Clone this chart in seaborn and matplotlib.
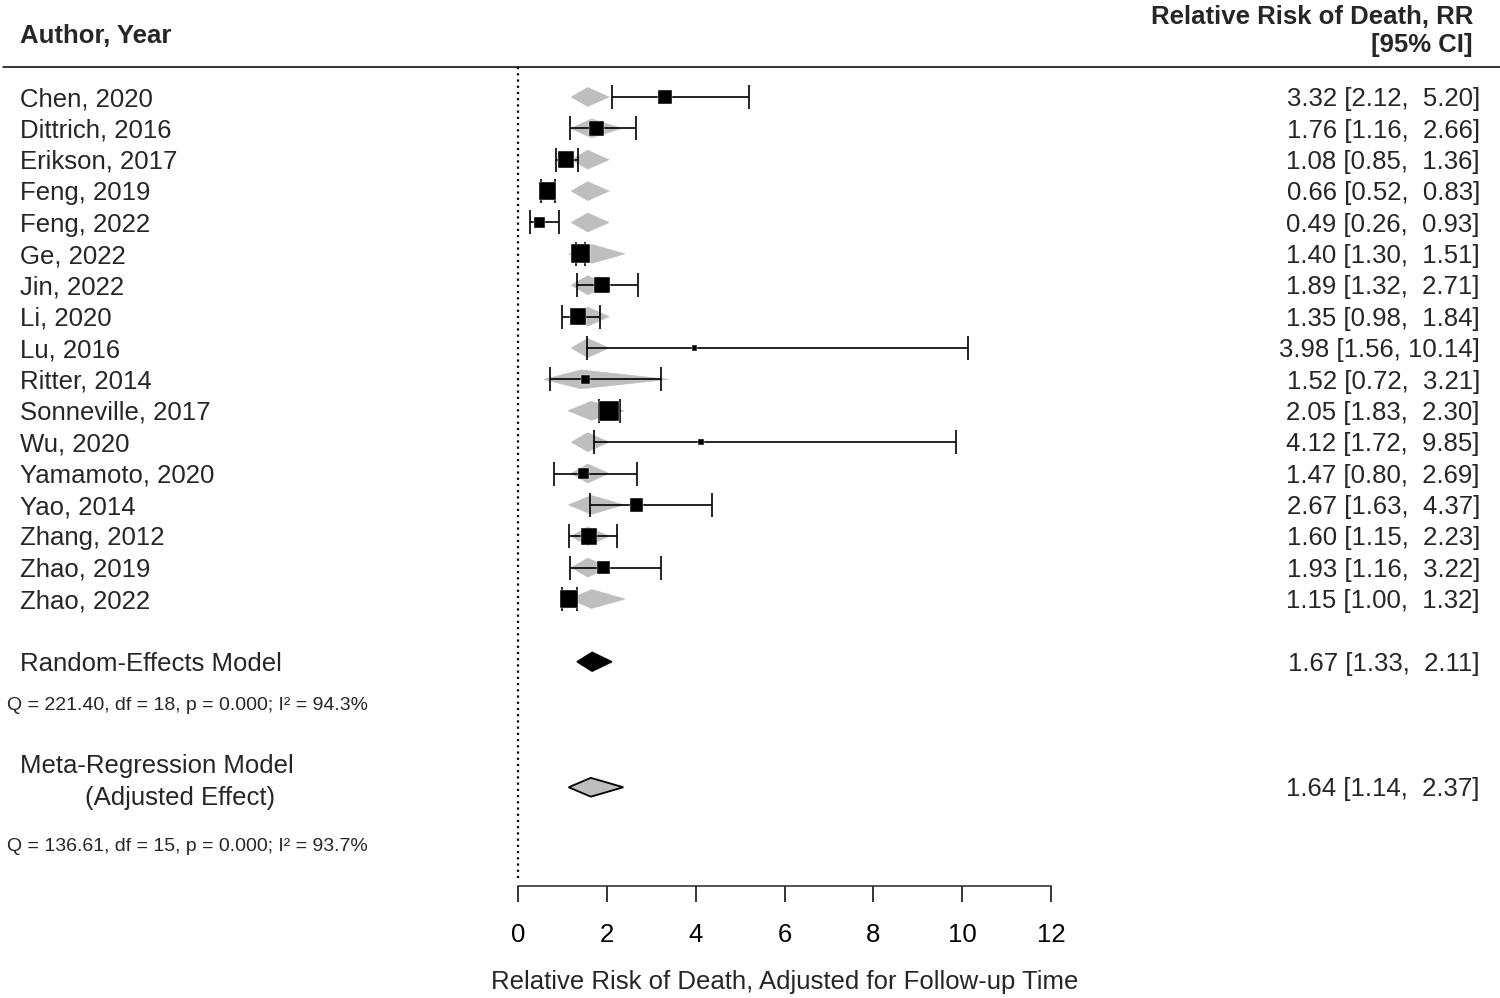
import matplotlib
matplotlib.use("Agg")
import numpy as np
import pandas as pd
import matplotlib.pyplot as plt
import matplotlib.transforms as mtransforms
from matplotlib.lines import Line2D
import seaborn as sns

# Study-level data (relative risk of death with 95% CI)
studies = ["Chen, 2020", "Dittrich, 2016", "Erikson, 2017", "Feng, 2019", "Feng, 2022",
           "Ge, 2022", "Jin, 2022", "Li, 2020", "Lu, 2016", "Ritter, 2014",
           "Sonneville, 2017", "Wu, 2020", "Yamamoto, 2020", "Yao, 2014", "Zhang, 2012",
           "Zhao, 2019", "Zhao, 2022"]
rr = [3.32, 1.76, 1.08, 0.66, 0.49, 1.40, 1.89, 1.35, 3.98, 1.52,
      2.05, 4.12, 1.47, 2.67, 1.60, 1.93, 1.15]
ci_low = [2.12, 1.16, 0.85, 0.52, 0.26, 1.30, 1.32, 0.98, 1.56, 0.72,
          1.83, 1.72, 0.80, 1.63, 1.15, 1.16, 1.00]
ci_high = [5.20, 2.66, 1.36, 0.83, 0.93, 1.51, 2.71, 1.84, 10.14, 3.21,
           2.30, 9.85, 2.69, 4.37, 2.23, 3.22, 1.32]
# random-effects weights (%)
weights = [5.6, 6.1, 6.7, 7.0, 4.3, 7.6, 6.3, 6.6, 2.1, 3.9,
           7.9, 2.5, 4.5, 5.4, 6.6, 5.1, 7.5]

# fitted values from the meta-regression (gray diamonds)
fit_rr = [1.57, 1.66, 1.57, 1.57, 1.57, 1.66, 1.57, 1.57, 1.57, 1.42,
          1.65, 1.57, 1.57, 1.65, 1.57, 1.57, 1.66]
fit_low = [1.20, 1.19, 1.20, 1.20, 1.20, 1.15, 1.20, 1.20, 1.20, 0.59,
           1.13, 1.20, 1.20, 1.14, 1.20, 1.20, 1.15]
fit_high = [2.05, 2.33, 2.05, 2.05, 2.05, 2.41, 2.05, 2.05, 2.05, 3.38,
            2.39, 2.05, 2.05, 2.38, 2.05, 2.05, 2.41]

# pooled estimates
re_est, re_low, re_high = 1.67, 1.33, 2.11
mr_est, mr_low, mr_high = 1.64, 1.14, 2.37
re_stats = "Q = 221.40, df = 18, p = 0.000; I\u00b2 = 94.3%"
mr_stats = "Q = 136.61, df = 15, p = 0.000; I\u00b2 = 93.7%"

x_ticks = [0, 2, 4, 6, 8, 10, 12]

FS = 18.5
GRAY = "#bebebe"


def ci_text(est, lo, hi):
    return f"{est:.2f} [{lo:.2f}, {hi:5.2f}]"


def diamond(ax, est, lo, hi, y, h=0.30, **kw):
    ax.fill([lo, est, hi, est], [y, y - h, y, y + h], **kw)


def forest_plot():
    sns.set_style("white")
    plt.rcParams["font.family"] = ["Liberation Sans", "DejaVu Sans"]

    df = pd.DataFrame({
        "study": studies, "rr": rr, "low": ci_low, "high": ci_high,
        "weight": weights, "fit": fit_rr, "fit_low": fit_low, "fit_high": fit_high,
    })
    df["row"] = np.arange(1, len(df) + 1)
    re_row = len(df) + 2
    mr_row = len(df) + 6

    fig = plt.figure(figsize=(15, 9.98), dpi=100)
    ax = fig.add_axes([518 / 1500, 112 / 998, 533 / 1500, 819 / 998])
    ax.set_xlim(0, 12)
    ax.set_ylim(26.147, 0.044)

    # fitted values of the meta-regression
    for _, r in df.iterrows():
        diamond(ax, r["fit"], r["fit_low"], r["fit_high"], r["row"],
                facecolor=GRAY, edgecolor=GRAY, linewidth=0.5, zorder=2)

    # study confidence intervals
    ax.errorbar(df["rr"], df["row"], xerr=[df["rr"] - df["low"], df["high"] - df["rr"]],
                fmt="none", ecolor="black", elinewidth=1.2, capsize=8.6, capthick=1.2, zorder=3)

    # squares sized by weight (side proportional to weight)
    side_pt = df["weight"] * 2.5 * 0.72
    sns.scatterplot(data=df, x="rr", y="row", marker="s", s=side_pt ** 2, color="black",
                    edgecolor="white", linewidth=0.3, legend=False, ax=ax, zorder=4)

    # summary diamonds
    diamond(ax, re_est, re_low, re_high, re_row, facecolor="black", edgecolor="black",
            linewidth=1.1, zorder=3)
    diamond(ax, mr_est, mr_low, mr_high, mr_row, facecolor=GRAY, edgecolor="black",
            linewidth=1.3, zorder=3)

    # reference line at 0
    ax.vlines(0, 0.044, 25.9, colors="black", linestyles=(0, (1, 1.8)), linewidth=1.6,
              clip_on=False)

    # axis styling
    sns.despine(ax=ax, left=True)
    ax.set_yticks([])
    ax.set_xticks(x_ticks)
    ax.spines["bottom"].set_linewidth(1.1)
    ax.tick_params(axis="x", bottom=True, direction="out", length=11.5, width=1.1, pad=15.5,
                   labelsize=FS, colors="black")
    ax.set_xlabel("Relative Risk of Death, Adjusted for Follow-up Time", fontsize=FS,
                  labelpad=16)
    ax.set_ylabel("")
    ax.grid(False)

    trans = mtransforms.blended_transform_factory(fig.transFigure, ax.transData)
    left_x = 20 / 1500
    right_x = 1480 / 1500
    off = 0.293

    # study labels and values
    for _, r in df.iterrows():
        ax.text(left_x, r["row"] + off, r["study"], transform=trans, fontsize=FS,
                ha="left", va="baseline")
        ax.text(right_x, r["row"] + off, ci_text(r["rr"], r["low"], r["high"]),
                transform=trans, fontsize=FS, ha="right", va="baseline")

    # pooled rows
    ax.text(left_x, re_row + off, "Random-Effects Model", transform=trans, fontsize=FS,
            va="baseline")
    ax.text(right_x, re_row + off, ci_text(re_est, re_low, re_high), transform=trans,
            fontsize=FS, ha="right", va="baseline")
    ax.text(7 / 1500, 20.54, re_stats, transform=trans, fontsize=14, va="baseline")

    ax.text(left_x, 22.55, "Meta-Regression Model", transform=trans, fontsize=FS,
            va="baseline")
    ax.text(85 / 1500, 23.57, "(Adjusted Effect)", transform=trans, fontsize=FS,
            va="baseline")
    ax.text(right_x, mr_row + off, ci_text(mr_est, mr_low, mr_high), transform=trans,
            fontsize=FS, ha="right", va="baseline")
    ax.text(7 / 1500, 25.03, mr_stats, transform=trans, fontsize=14, va="baseline")

    # headers
    ax.text(left_x, -0.73, "Author, Year", transform=trans, fontsize=FS,
            fontweight="bold", va="baseline")
    ax.text(1473 / 1500, -1.32, "Relative Risk of Death, RR", transform=trans,
            fontsize=FS, fontweight="bold", ha="right", va="baseline")
    ax.text(1473 / 1500, -0.45, "[95% CI]", transform=trans, fontsize=FS,
            fontweight="bold", ha="right", va="baseline")
    fig.add_artist(Line2D([0.002, 1.0], [1 - 67 / 998, 1 - 67 / 998], color="black",
                          linewidth=1.1, transform=fig.transFigure))

    fig.savefig("out.png", dpi=100)


if __name__ == "__main__":
    forest_plot()
